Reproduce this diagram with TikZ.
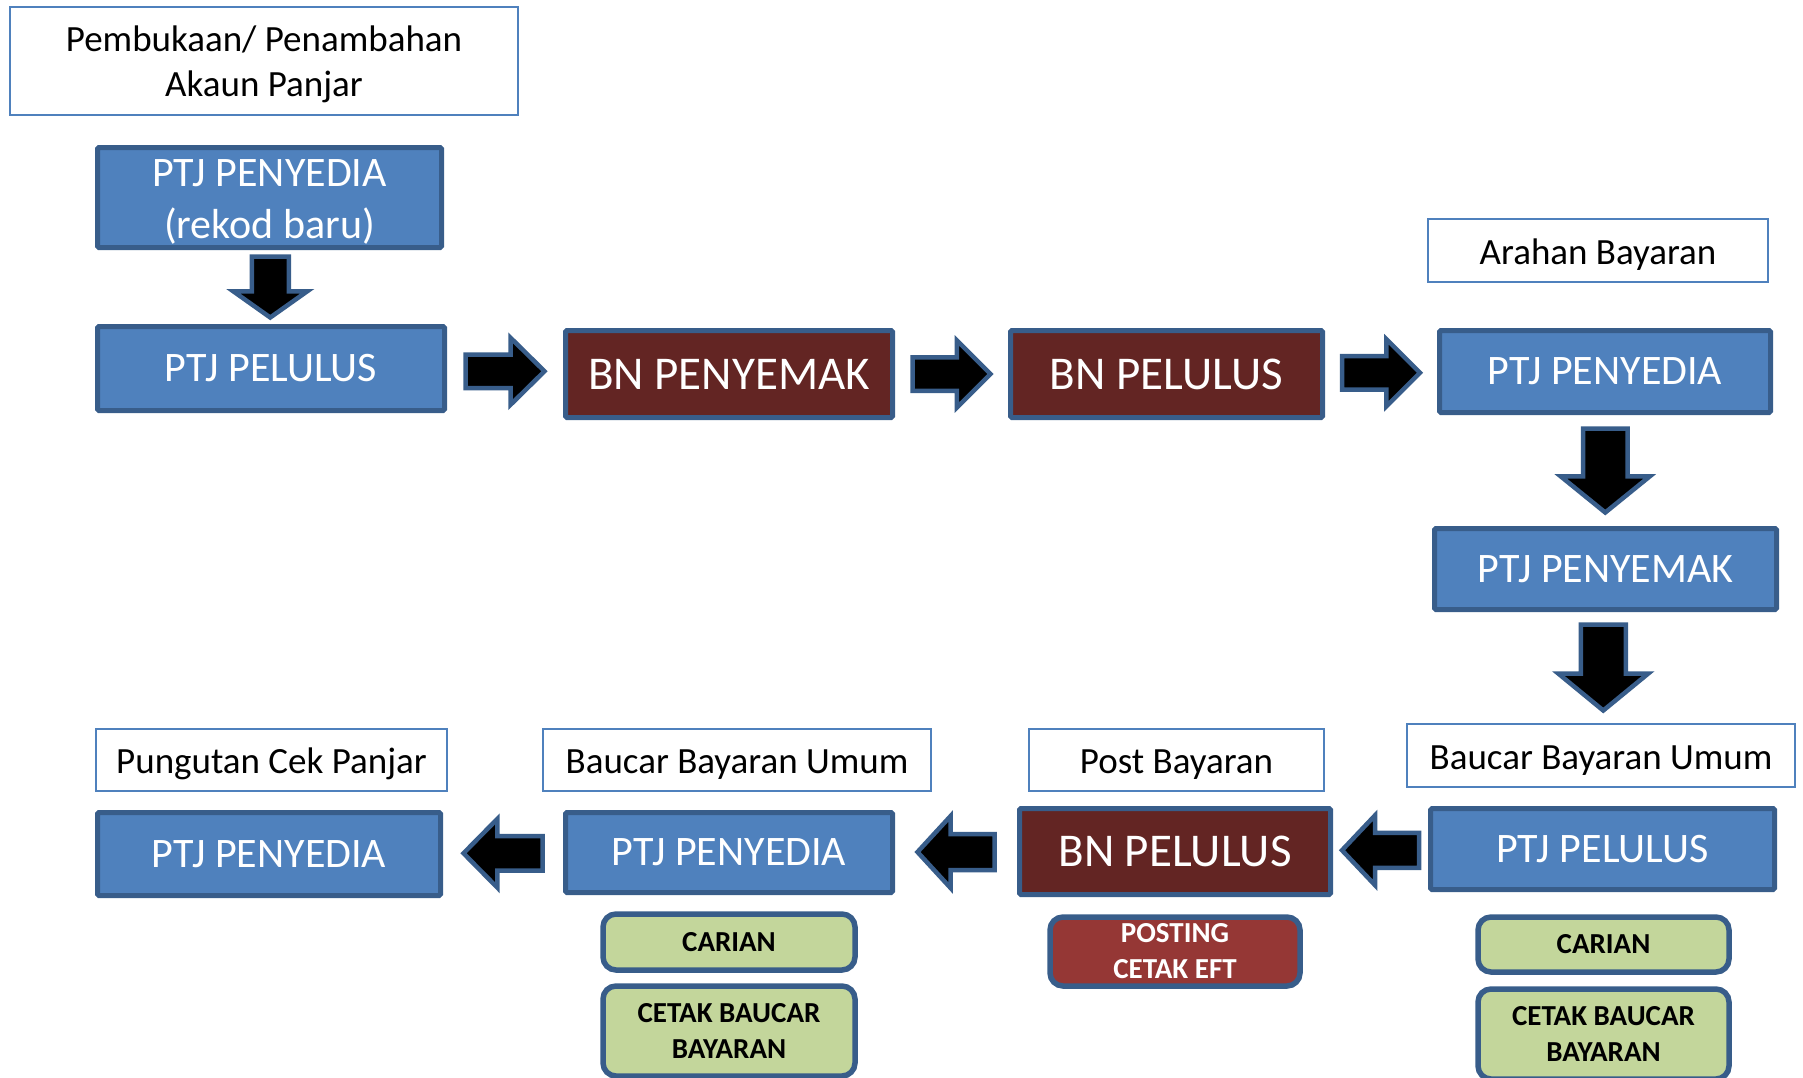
\documentclass[tikz,border=0pt]{standalone}
\usepackage{fontspec}
\setmainfont{Carlito}
\usetikzlibrary{calc}
\definecolor{ptjfill}{HTML}{4F81BD}
\definecolor{edgeblue}{HTML}{385D8A}
\definecolor{bnfill}{HTML}{632523}
\definecolor{grnfill}{HTML}{C3D69B}
\definecolor{pstfill}{HTML}{953735}
\tikzset{
 box/.style={rectangle, draw=edgeblue, line width=5pt, rounded corners=1.5pt, inner sep=0pt, align=center, text=white},
 ptj/.style={box, fill=ptjfill, font=\fontsize{42}{52}\selectfont},
 bn/.style={box, fill=bnfill, font=\fontsize{47}{56}\selectfont},
 lbl/.style={rectangle, draw=ptjfill, line width=2pt, fill=white, inner sep=0pt, font=\fontsize{37}{45}\selectfont},
 lblone/.style={lbl, text height=33pt, text depth=6pt},
 plaintext/.style={inner sep=0pt, align=center, font=\fontsize{37}{45}\selectfont},
 btn/.style={rectangle, rounded corners=13pt, draw=edgeblue, line width=5.5pt, align=center, inner sep=0pt, font=\bfseries\fontsize{29}{36}\selectfont},
 grn/.style={btn, fill=grnfill},
 pst/.style={btn, fill=pstfill, text=white},
 arrowst/.style={fill=black, draw=edgeblue, line width=4.5pt, line join=miter},
 pics/barrow/.style args={#1/#2}{code={
   \draw[arrowst] ({-#1/2},{-#2/4}) -- ({0.07*#1},{-#2/4}) -- ({0.07*#1},{-#2/2}) -- ({#1/2},0) -- ({0.07*#1},{#2/2}) -- ({0.07*#1},{#2/4}) -- ({-#1/2},{#2/4}) -- cycle;
 }}
}
\begin{document}
\begin{tikzpicture}[x=1pt,y=-1pt]
\useasboundingbox (0,0) rectangle (1803,1077);
\clip (0,0) rectangle (1803,1077);
% labels
\node[lbl, minimum width=508, minimum height=108] (t1box) at (264,61) {};
\node[plaintext] (t1) at ($(t1box.center)+(0,3)$) {Pembukaan/ Penambahan\\Akaun Panjar};
\node[lblone, minimum width=340, minimum height=63] (l2) at (1598,250.5) {Arahan Bayaran};
\node[lblone, minimum width=388, minimum height=63] (l3) at (1601,755.5) {Baucar Bayaran Umum};
\node[lblone, minimum width=295, minimum height=62] (l4) at (1176.5,760) {Post Bayaran};
\node[lblone, minimum width=388, minimum height=62] (l5) at (737,760) {Baucar Bayaran Umum};
\node[lblone, minimum width=351, minimum height=62] (l6) at (271.5,760) {Pungutan Cek Panjar};
% main boxes
\node[ptj, minimum width=344, minimum height=100] (n1) at (269.5,197.5) {\rule{0pt}{35pt}PTJ PENYEDIA\\(rekod baru)};
\node[ptj, minimum width=347, minimum height=84] (n2) at (271,368.5) {PTJ PELULUS};
\node[bn, minimum width=327, minimum height=87] (n3) at (729,374) {BN PENYEMAK};
\node[bn, minimum width=312, minimum height=87] (n4) at (1166.5,374) {BN PELULUS};
\node[ptj, minimum width=331, minimum height=82] (n5) at (1605,371.5) {PTJ PENYEDIA};
\node[ptj, minimum width=342, minimum height=81] (n6) at (1605.5,569) {PTJ PENYEMAK};
\node[ptj, minimum width=344, minimum height=81] (n7) at (1602.5,849) {PTJ PELULUS};
\node[bn, minimum width=311, minimum height=86] (n8) at (1175,851.5) {BN PELULUS};
\node[ptj, minimum width=327, minimum height=80] (n9) at (729,852.5) {PTJ PENYEDIA};
\node[ptj, minimum width=343, minimum height=83] (n10) at (269,854) {PTJ PENYEDIA};
% buttons
\node[grn, minimum width=251, minimum height=55] (g1) at (1603.5,944.5) {CARIAN};
\node[grn, minimum width=251, minimum height=90] (g2) at (1603.5,1034) {CETAK BAUCAR\\BAYARAN};
\node[pst, minimum width=250, minimum height=69] (r1) at (1175,951.5) {POSTING\\CETAK EFT};
\node[grn, minimum width=252, minimum height=56] (g3) at (729,942) {CARIAN};
\node[grn, minimum width=252, minimum height=90] (g4) at (729,1031) {CETAK BAUCAR\\BAYARAN};
% block arrows
\pic[rotate=-90] at ($(n1.south)!0.5!(n2.north)$) {barrow=61/74};
\pic at ($(n2.east)!0.5!(n3.west)$) {barrow=79/67};
\pic at ($(n3.east)!0.5!(n4.west)$) {barrow=78/67};
\pic at ($(n4.east)!0.5!(n5.west)$) {barrow=78/67};
\pic[rotate=-90] at ($(n5.south)!0.5!(n6.north)$) {barrow=84/89};
\pic[rotate=-90] at ($(n6.south)!0.5!(l3.north)$) {barrow=86/90};
\pic[rotate=180] at ($(n7.west)!0.5!(n8.east)$) {barrow=77/70};
\pic[rotate=180] at ($(n8.west)!0.5!(n9.east)$) {barrow=77/72};
\pic[rotate=180] at ($(n9.west)!0.5!(n10.east)$) {barrow=79/69};
\end{tikzpicture}
\end{document}
